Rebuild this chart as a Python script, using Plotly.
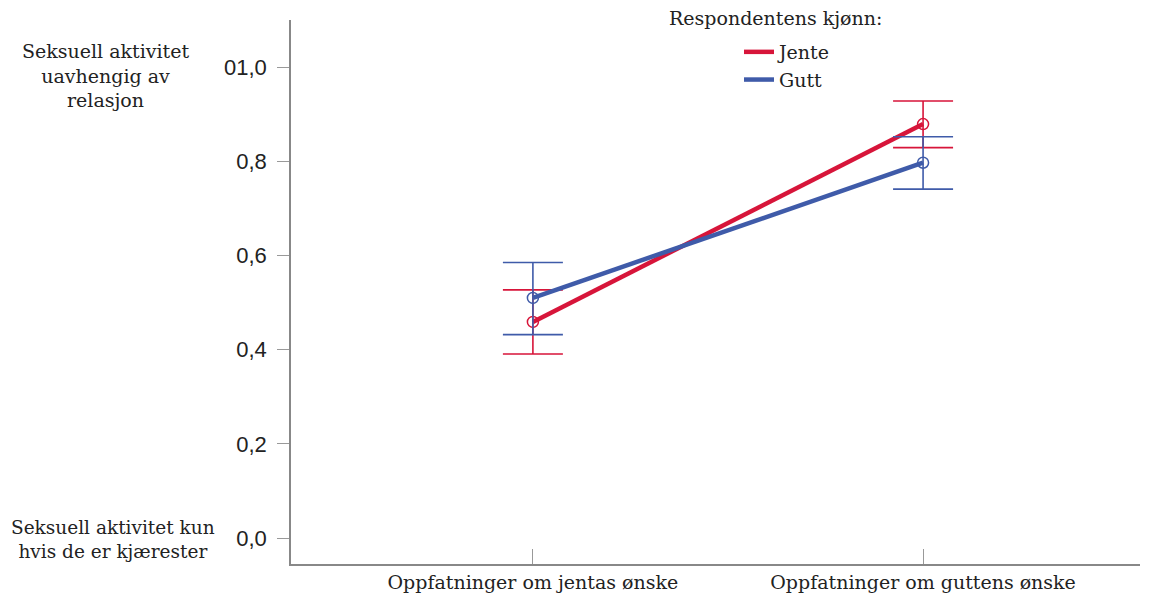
import plotly.graph_objects as go

categories = ["Oppfatninger om jentas ønske", "Oppfatninger om guttens ønske"]
series_names = ["Jente", "Gutt"]
jente_mean = [0.459, 0.879]
jente_upper = [0.527, 0.928]
jente_lower = [0.391, 0.829]
gutt_mean = [0.510, 0.797]
gutt_upper = [0.585, 0.852]
gutt_lower = [0.432, 0.741]
y_tickvals = [0.0, 0.2, 0.4, 0.6, 0.8, 1.0]
y_ticktext = ["0,0", "0,2", "0,4", "0,6", "0,8", "01,0"]

RED = "#D7153A"
BLUE = "#3F5BA9"
SERIF = "DejaVu Serif"
SANS = "Liberation Sans"

# page has an 8px body offset; figure is sized to fill the rest
W, H = 1146, 595
L, R, T, B = 283, 14, 12, 39
pw = W - L - R
ph = H - T - B

fig = go.Figure()
xs = [0, 1]
for name, mean, up, lo, col in [
    ("Jente", jente_mean, jente_upper, jente_lower, RED),
    ("Gutt", gutt_mean, gutt_upper, gutt_lower, BLUE),
]:
    fig.add_trace(go.Scatter(
        x=xs, y=mean, name=name, mode="lines+markers", showlegend=False,
        line=dict(color=col, width=4.5),
        marker=dict(symbol="circle-open", size=11, color=col, line=dict(width=1.5)),
        error_y=dict(type="data", symmetric=False,
                     array=[u - m for u, m in zip(up, mean)],
                     arrayminus=[m - l for m, l in zip(mean, lo)],
                     color=col, thickness=1.6, width=30),
    ))
for name, col in [("Jente", RED), ("Gutt", BLUE)]:
    fig.add_trace(go.Scatter(x=[None], y=[None], name=name, mode="lines",
                             line=dict(color=col, width=4.5), showlegend=True))

fig.update_layout(
    width=W, height=H,
    margin=dict(l=L, r=R, t=T, b=B, autoexpand=False),
    paper_bgcolor="white", plot_bgcolor="white",
    font=dict(family=SERIF, size=19, color="#222"),
    showlegend=True,
    legend=dict(x=(731 - L) / pw, y=1 - (25 - T) / ph, xref="paper", yref="paper",
                xanchor="left", yanchor="top", bgcolor="rgba(0,0,0,0)",
                font=dict(family=SERIF, size=19), tracegroupgap=0),
    xaxis=dict(range=[-0.62, 1.556], tickvals=xs, ticktext=categories,
               ticks="inside", ticklen=15, tickcolor="#999", showgrid=False,
               zeroline=False, showline=True, linecolor="#888", linewidth=1.5,
               tickfont=dict(family=SERIF, size=19)),
    yaxis=dict(range=[-0.055, 1.1], tickvals=y_tickvals, ticktext=y_ticktext,
               ticks="outside", ticklen=12, tickcolor="#999", showgrid=False,
               zeroline=False, showline=True, linecolor="#888", linewidth=1.5,
               ticklabelstandoff=6,
               tickfont=dict(family=SANS, size=22)),
)

fig.add_annotation(text="Respondentens kjønn:", xref="paper", yref="paper",
                   x=(767 - L) / pw, y=1 + (T - 10) / ph, xanchor="center", yanchor="middle",
                   showarrow=False, font=dict(family=SERIF, size=19))
fig.add_annotation(text="Seksuell aktivitet<br>uavhengig av<br>relasjon", xref="paper", yref="paper",
                   x=(97 - L) / pw, y=1 - (68 - T) / ph, xanchor="center", yanchor="middle",
                   showarrow=False, font=dict(family=SERIF, size=19), align="center")
fig.add_annotation(text="Seksuell aktivitet kun<br>hvis de er kjærester", xref="paper", yref="paper",
                   x=(105 - L) / pw, y=1 - (531 - T) / ph, xanchor="center", yanchor="middle",
                   showarrow=False, font=dict(family=SERIF, size=18.5), align="center")

fig.write_html("out.html")
